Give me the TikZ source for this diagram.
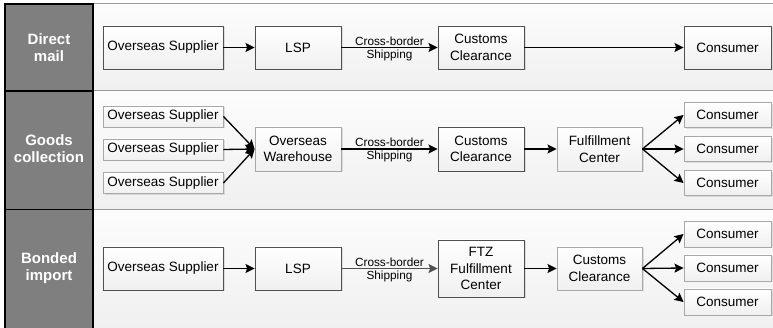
\documentclass[tikz,border=0pt]{standalone}
\usepackage{fontspec}
\setmainfont{Liberation Sans}
\usetikzlibrary{arrows.meta,shadows}
\definecolor{colgray}{HTML}{7F7F7F}
\definecolor{darkedge}{HTML}{505050}
\definecolor{lightedge}{HTML}{A8A8A8}
\definecolor{laneline}{HTML}{9A9A9A}
\tikzset{
  box/.style={draw=darkedge, line width=0.9pt, top color=white, bottom color=black!6,
    minimum height=43pt, align=center, inner sep=1pt,
    font=\fontsize{13.5}{16.5}\selectfont,
    drop shadow={shadow xshift=1.5pt, shadow yshift=-1.5pt, opacity=0.22, fill=gray}},
  lbox/.style={box, draw=lightedge},
  lanetitle/.style={text=white, align=center, font=\fontsize{15}{17}\bfseries\selectfont},
  conn/.style={line width=1.3pt, -{Stealth[length=9pt,width=9pt,inset=1.5pt]}},
  elabel/.style={midway, yshift=-1.2pt, align=center, font=\fontsize{11.8}{12.7}\selectfont}
}
\begin{document}
\begin{tikzpicture}[x=1pt,y=-1pt]
\useasboundingbox (0,0) rectangle (773,328);
% lanes
\shade[top color=black!1, bottom color=black!6] (93,4) rectangle (773,91);
\shade[top color=black!1, bottom color=black!6] (93,91) rectangle (773,209.5);
\shade[top color=black!1, bottom color=black!6] (93,209.5) rectangle (773,330);
\draw[laneline, line width=1pt] (93,4) -- (773,4);
\draw[laneline, line width=1pt] (93,91) -- (773,91);
\draw[laneline, line width=1pt] (93,209.5) -- (773,209.5);
% left column
\draw[fill=colgray, line width=1.3pt] (5,4) rectangle (93,332);
\draw[line width=1.3pt] (5,91) -- (93,91);
\draw[line width=1.3pt] (5,209.5) -- (93,209.5);
\node[lanetitle] (t1) at (49,47.5) {Direct\\mail};
\node[lanetitle] (t2) at (49,149) {Goods\\collection};
\node[lanetitle] (t3) at (49,268.5) {Bonded\\import};

% Row 1
\node[box, minimum width=120pt] (s1) at (163,47.5) {Overseas Supplier};
\node[box, minimum width=86pt] (l1) at (298,47.5) {LSP};
\node[box, minimum width=86pt] (c1) at (481,47.5) {Customs\\Clearance};
\node[box, minimum width=87pt] (k1) at (727.5,47.5) {Consumer};
\draw[conn] (s1) -- (l1);
\draw[conn] (l1) -- node[elabel] {Cross-border\\Shipping} (c1);
\draw[conn] (c1) -- (k1);

% Row 2
\node[lbox, minimum width=120pt, minimum height=21pt] (s2a) at (163,116.5) {Overseas Supplier};
\node[lbox, minimum width=120pt, minimum height=21pt] (s2b) at (163,149.5) {Overseas Supplier};
\node[lbox, minimum width=120pt, minimum height=21pt] (s2c) at (163,183) {Overseas Supplier};
\node[lbox, minimum width=86pt, minimum height=44pt] (w2) at (298,149) {Overseas\\Warehouse};
\node[box, minimum width=86pt, minimum height=44pt] (c2) at (481,149) {Customs\\Clearance};
\node[lbox, minimum width=85pt, minimum height=44pt] (f2) at (599.5,149) {Fulfillment\\Center};
\node[lbox, minimum width=87pt, minimum height=25pt] (k2a) at (727.5,115) {Consumer};
\node[lbox, minimum width=87pt, minimum height=25pt] (k2b) at (727.5,149) {Consumer};
\node[lbox, minimum width=87pt, minimum height=25pt] (k2c) at (727.5,183) {Consumer};
\draw[conn] (s2a.east) -- (w2.west);
\draw[conn] (s2b.east) -- (w2.west);
\draw[conn] (s2c.east) -- (w2.west);
\draw[conn] (w2) -- node[elabel] {Cross-border\\Shipping} (c2);
\draw[conn] (c2) -- (f2);
\draw[conn] (f2.east) -- (k2a.west);
\draw[conn] (f2.east) -- (k2b.west);
\draw[conn] (f2.east) -- (k2c.west);

% Row 3
\node[box, minimum width=120pt] (s3) at (163,268.5) {Overseas Supplier};
\node[box, minimum width=86pt] (l3) at (298,268.5) {LSP};
\node[box, minimum width=86pt, minimum height=57pt] (z3) at (481,268.5) {FTZ\\Fulfillment\\Center};
\node[lbox, minimum width=85pt] (c3) at (599.5,268.5) {Customs\\Clearance};
\node[lbox, minimum width=87pt, minimum height=26pt] (k3a) at (727.5,234) {Consumer};
\node[lbox, minimum width=87pt, minimum height=26pt] (k3b) at (727.5,268) {Consumer};
\node[lbox, minimum width=87pt, minimum height=26pt] (k3c) at (727.5,302) {Consumer};
\draw[conn] (s3) -- (l3);
\draw[conn, draw=darkedge, fill=darkedge] (l3) -- node[elabel, text=black] {Cross-border\\Shipping} (z3);
\draw[conn] (z3) -- (c3);
\draw[conn] (c3.east) -- (k3a.west);
\draw[conn] (c3.east) -- (k3b.west);
\draw[conn] (c3.east) -- (k3c.west);
\end{tikzpicture}
\end{document}
